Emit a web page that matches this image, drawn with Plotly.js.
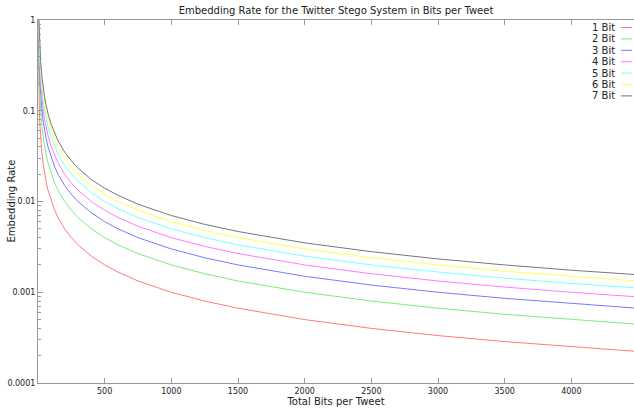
<!DOCTYPE html>
<html>
<head>
<meta charset="utf-8">
<script src="https://cdn.plot.ly/plotly-3.0.1.min.js"></script>
<style>html,body{margin:0;padding:0;background:#fff;}#chart{width:634px;height:410px;}</style>
</head>
<body>
<div id="chart"></div>
<script>
// Total bits per tweet (x) sample points
var totalBits = [1,2,3,4,5,7,10,15,20,30,40,50,60,75,100,125,150,200,250,300,400,500,600,750,1000,1250,1500,2000,2500,3000,3500,4000,4470];
var seriesNames = ["1 Bit","2 Bit","3 Bit","4 Bit","5 Bit","6 Bit","7 Bit"];
var rate1 = [1,.5,.333,.25,.2,.143,.1,.0667,.05,.0333,.025,.02,.0167,.0133,.01,.008,.00667,.005,.004,.00333,.0025,.002,.00167,.00133,.001,.0008,.000667,.0005,.0004,.000333,.000286,.00025,.000224];
var rate2 = [null,1,.667,.5,.4,.286,.2,.133,.1,.0667,.05,.04,.0333,.0267,.02,.016,.0133,.01,.008,.00667,.005,.004,.00333,.00267,.002,.0016,.00133,.001,.0008,.000667,.000571,.0005,.000447];
var rate3 = [null,null,1,.75,.6,.429,.3,.2,.15,.1,.075,.06,.05,.04,.03,.024,.02,.015,.012,.01,.0075,.006,.005,.004,.003,.0024,.002,.0015,.0012,.001,.000857,.00075,.000671];
var rate4 = [null,null,null,1,.8,.571,.4,.267,.2,.133,.1,.08,.0667,.0533,.04,.032,.0267,.02,.016,.0133,.01,.008,.00667,.00533,.004,.0032,.00267,.002,.0016,.00133,.00114,.001,.000895];
var rate5 = [null,null,null,null,1,.714,.5,.333,.25,.167,.125,.1,.0833,.0667,.05,.04,.0333,.025,.02,.0167,.0125,.01,.00833,.00667,.005,.004,.00333,.0025,.002,.00167,.00143,.00125,.00112];
var rate6 = [null,null,null,null,null,.857,.6,.4,.3,.2,.15,.12,.1,.08,.06,.048,.04,.03,.024,.02,.015,.012,.01,.008,.006,.0048,.004,.003,.0024,.002,.00171,.0015,.00134];
var rate7 = [null,null,null,null,null,1,.7,.467,.35,.233,.175,.14,.117,.0933,.07,.056,.0467,.035,.028,.0233,.0175,.014,.0117,.00933,.007,.0056,.00467,.0035,.0028,.00233,.002,.00175,.00157];
var yTickVals = [0.0001,0.001,0.01,0.1,1];
var yTickText = ["0.0001","0.001","0.01","0.1","1"];
var xTickVals = [500,1000,1500,2000,2500,3000,3500,4000];

var colors = ["#ff7a7a","#7aee7a","#7a7aff","#ff7aff","#7affff","#ffff55","#777777"];
var rates = [rate1,rate2,rate3,rate4,rate5,rate6,rate7];
var FONT = "DejaVu Sans, sans-serif";

var traces = rates.map(function(r,i){
  return {x: totalBits, y: r, type: "scatter", mode: "lines", name: seriesNames[i],
          line: {color: colors[i], width: 1}, connectgaps: false, hoverinfo: "skip"};
});

var annotations = [], shapes = [];
var plotTop = 20, plotBottom = 383, plotH = plotBottom - plotTop;
seriesNames.forEach(function(n,i){
  var py = 27.5 + i*11.4;
  var yp = (plotBottom - py)/plotH;
  annotations.push({xref:"paper", yref:"paper", x:0.971, y:yp, xanchor:"right", yanchor:"middle",
    text:n, showarrow:false, font:{family:FONT, size:10, color:"#222"}});
  shapes.push({type:"line", xref:"paper", yref:"paper", x0:0.978, x1:0.997, y0:yp, y1:yp,
    line:{color:colors[i], width:1}});
});
annotations.push({xref:"paper", yref:"paper", x:(11-38)/596, y:0.5, xanchor:"center", yanchor:"middle",
  textangle:-90, text:"Embedding Rate", showarrow:false, font:{family:FONT, size:10, color:"#222"}});

var layout = {
  width: 634, height: 410,
  margin: {l: 38, r: 0, t: 20, b: 27, pad: 0},
  paper_bgcolor: "#fff", plot_bgcolor: "#fff",
  showlegend: false,
  font: {family: FONT, size: 8, color: "#222"},
  title: {text: "Embedding Rate for the Twitter Stego System in Bits per Tweet",
          font: {family: FONT, size: 10, color: "#222"}, x: 0.53, xanchor: "center", y: 0.975, yanchor: "middle"},
  xaxis: {range: [0, 4470], tickvals: xTickVals, ticks: "inside", ticklen: 5, tickcolor: "#999",
          showline: true, linecolor: "#999", linewidth: 1, mirror: "ticks", showgrid: false, zeroline: false,
          tickfont: {family: FONT, size: 8, color: "#222"},
          title: {text: "Total Bits per Tweet", font: {family: FONT, size: 10, color: "#222"}, standoff: 0}},
  yaxis: {type: "log", range: [-4, 0], tickvals: yTickVals, ticktext: yTickText, ticks: "inside", ticklen: 5,
          tickcolor: "#999", showline: true, linecolor: "#999", linewidth: 1, showgrid: false, zeroline: false,
          tickfont: {family: FONT, size: 8, color: "#222"},
          minor: {ticks: "inside", ticklen: 3, tickcolor: "#999", dtick: "D1", showgrid: false}},
  annotations: annotations,
  shapes: shapes
};

Plotly.newPlot("chart", traces, layout, {staticPlot: true, displayModeBar: false});
</script>
</body>
</html>
